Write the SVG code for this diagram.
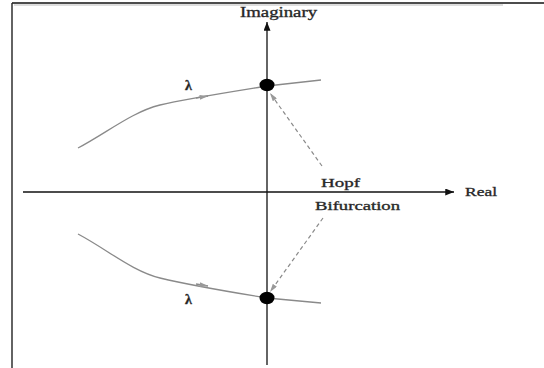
<svg xmlns="http://www.w3.org/2000/svg" width="544" height="368" viewBox="0 0 544 368">
<defs>
<style>
.t{font-family:"Liberation Serif","Times New Roman",serif;fill:#222;stroke:#333;stroke-width:0.35;}
.axis{stroke:#111;stroke-width:1.3;fill:none;}
.curve{stroke:#8a8a8a;stroke-width:1.3;fill:none;}
.dash{stroke:#8a8a8a;stroke-width:1.2;fill:none;stroke-dasharray:4 3;}
</style>
<marker id="ax" viewBox="0 0 10 8" refX="10" refY="4" markerWidth="9" markerHeight="7" markerUnits="userSpaceOnUse" orient="auto"><path d="M0,0 L10,4 L0,8 Z" fill="#111"/></marker>
<marker id="ga" viewBox="0 0 10 6" refX="10" refY="3" markerWidth="9" markerHeight="5" markerUnits="userSpaceOnUse" orient="auto"><path d="M0,0 L10,3 L0,6 Z" fill="#999"/></marker>
</defs>
<rect width="544" height="368" fill="#fff"/>
<g id="frame">
<line x1="12" y1="3" x2="544" y2="3" stroke="#111" stroke-width="1.6"/>
<line x1="14" y1="5" x2="503" y2="5" stroke="#bbb" stroke-width="1"/>
<line x1="12" y1="3" x2="12" y2="368" stroke="#222" stroke-width="1.4"/>
</g>
<g id="connectors">
<line id="real-axis" class="axis" x1="23" y1="192" x2="454" y2="192" marker-end="url(#ax)"/>
<line id="imag-axis" class="axis" x1="267" y1="365" x2="267" y2="22" marker-end="url(#ax)"/>
<path id="upper-branch" class="curve" d="M78,148 C108,132 132,112 160,105 C185,99 230,92 267,86 L321,80"/>
<path id="lower-branch" class="curve" d="M78,234 C108,250 132,271 160,278 C185,284 230,292 267,298 L321,303"/>
<line class="curve" x1="196" y1="98" x2="208" y2="96" marker-end="url(#ga)"/>
<line class="curve" x1="196" y1="284" x2="208" y2="286" marker-end="url(#ga)"/>
<line id="hopf-up" class="dash" x1="322" y1="166" x2="270" y2="93" marker-end="url(#ga)"/>
<line id="hopf-down" class="dash" x1="323" y1="218" x2="270" y2="292" marker-end="url(#ga)"/>
</g>
<g id="upper-eigenvalue"><ellipse cx="267" cy="85" rx="7.5" ry="6.2" fill="#000"/></g>
<g id="lower-eigenvalue"><ellipse cx="267" cy="298" rx="7.5" ry="6.2" fill="#000"/></g>
<g id="label-imaginary"><text class="t" x="240" y="17" font-size="14" textLength="77" lengthAdjust="spacingAndGlyphs">Imaginary</text></g>
<g id="label-real"><text class="t" x="465" y="196" font-size="13" textLength="32" lengthAdjust="spacingAndGlyphs">Real</text></g>
<g id="label-hopf">
<text class="t" x="321" y="187" font-size="13" textLength="39" lengthAdjust="spacingAndGlyphs">Hopf</text>
<text class="t" x="315" y="210" font-size="13" textLength="85" lengthAdjust="spacingAndGlyphs">Bifurcation</text>
</g>
<g id="label-lambda-upper"><text class="t" x="185" y="90" font-size="14" font-weight="bold">λ</text></g>
<g id="label-lambda-lower"><text class="t" x="185" y="304" font-size="14" font-weight="bold">λ</text></g>
</svg>
